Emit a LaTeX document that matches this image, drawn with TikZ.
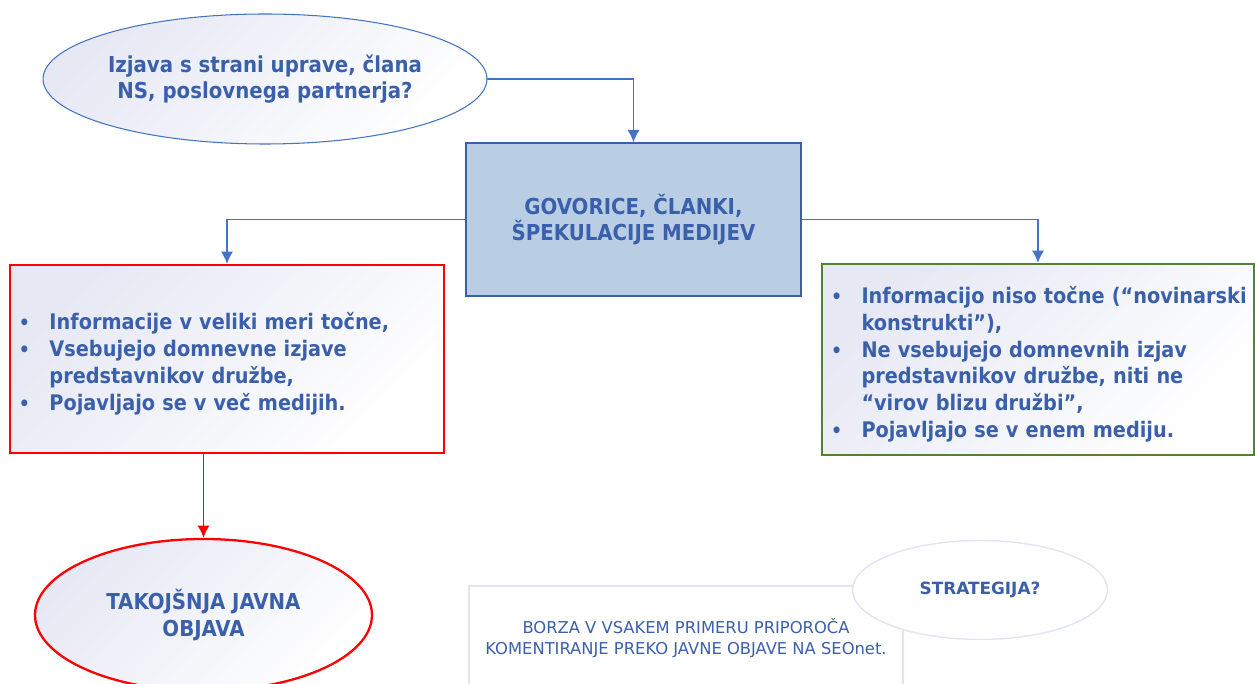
\documentclass[tikz,border=0pt]{standalone}
\usepackage{fontspec}
\setmainfont{DejaVu Sans Condensed}
\newfontfamily\widefont{DejaVu Sans}
\usetikzlibrary{shapes, arrows, arrows.meta}
\definecolor{txtblue}{RGB}{59,96,171}
\definecolor{lineblue}{RGB}{68,114,196}
\definecolor{boxblue}{RGB}{185,205,229}
\definecolor{lavender}{RGB}{230,232,244}
\definecolor{paleline}{RGB}{226,228,242}
\definecolor{okgreen}{RGB}{84,130,53}
\tikzset{
	every node/.style={text=txtblue,font=\fontsize{12.5}{15}\selectfont\bfseries,align=center,inner sep=0pt},
	soft/.style={top color=lavender,bottom color=white,shading angle=45},
	oval/.style={shape=ellipse,draw=lineblue,line width=0.6pt,soft},
	red-oval/.style={shape=ellipse,draw=red,line width=1.3pt,soft},
	pale-oval/.style={shape=ellipse,draw=paleline,line width=0.8pt,fill=white},
	mainbox/.style={shape=rectangle,draw=lineblue!85!black,line width=0.8pt,fill=boxblue},
	listbox/.style={shape=rectangle,line width=1.3pt,soft,align=left,inner xsep=0.13cm,font=\fontsize{12.2}{15.2}\selectfont\bfseries},
	red-box/.style={listbox,draw=red},
	green-box/.style={listbox,draw=okgreen},
	notebox/.style={shape=rectangle,draw=paleline,line width=0.8pt,fill=white,font=\widefont\fontsize{9.3}{11.9}\selectfont},
}
\tikzstyle{arrow} = [line width=0.9pt,draw=lineblue,->,>={Latex[length=7pt,width=7pt]}]

% bullet line with hanging indent, lines are kept as typed
\newcommand{\bpoint}[1]{\par\hangindent=0.66cm\hangafter=1\noindent\makebox[0.66cm][l]{\fontsize{11}{11}\selectfont\hspace{0.05cm}\textbullet}#1}
\newcommand{\keepline}[1]{\mbox{#1}}

\begin{document}
\begin{tikzpicture}
	\useasboundingbox (0,0) rectangle (25.1,13.68);
	\clip (0,0) rectangle (25.1,13.68);

	\node[oval,minimum width=8.16cm,minimum height=2.6cm] (izjava) at (5.3,12.1) {Izjava s strani uprave, člana\\NS, poslovnega partnerja?};
	\node[mainbox,minimum width=6.7cm,minimum height=3.06cm] (govorice) at (12.67,9.29) {GOVORICE, ČLANKI,\\ŠPEKULACIJE MEDIJEV};

	\node[red-box,text width=8.42cm,minimum height=3.76cm] (tocne) at (4.54,6.5) {%
		\bpoint{\keepline{Informacije v veliki meri točne,}}
		\bpoint{\keepline{Vsebujejo domnevne izjave}\newline \keepline{predstavnikov družbe,}}
		\bpoint{\keepline{Pojavljajo se v več medijih.}}};
	\node[green-box,text width=8.38cm,minimum height=3.82cm] (netocne) at (20.76,6.49) {%
		\bpoint{\keepline{Informacijo niso točne (“novinarski}\newline \keepline{konstrukti”),}}
		\bpoint{\keepline{Ne vsebujejo domnevnih izjav}\newline \keepline{predstavnikov družbe, niti ne}\newline \keepline{“virov blizu družbi”,}}
		\bpoint{\keepline{Pojavljajo se v enem mediju.}}};

	\node[red-oval,minimum width=6.74cm,minimum height=3.04cm] (objava) at (4.07,1.38) {TAKOJŠNJA JAVNA\\OBJAVA};

	\node[notebox,minimum width=8.68cm,minimum height=2.08cm] (borza) at (13.72,0.92) {BORZA V VSAKEM PRIMERU PRIPOROČA\\KOMENTIRANJE PREKO JAVNE OBJAVE NA SEOnet.};
	\node[pale-oval,minimum width=5.1cm,minimum height=1.98cm,font=\widefont\fontsize{9.6}{11}\selectfont\bfseries] (strategija) at (19.6,1.88) {STRATEGIJA?};

	\draw[arrow] (izjava.east) -| (govorice.north);
	\draw[arrow] (govorice.west) -| (tocne.north);
	\draw[arrow] (govorice.east) -| (netocne.north);
	\draw[arrow,draw=red,line width=1pt] (objava.north |- tocne.south) -- (objava.north);
\end{tikzpicture}
\end{document}
